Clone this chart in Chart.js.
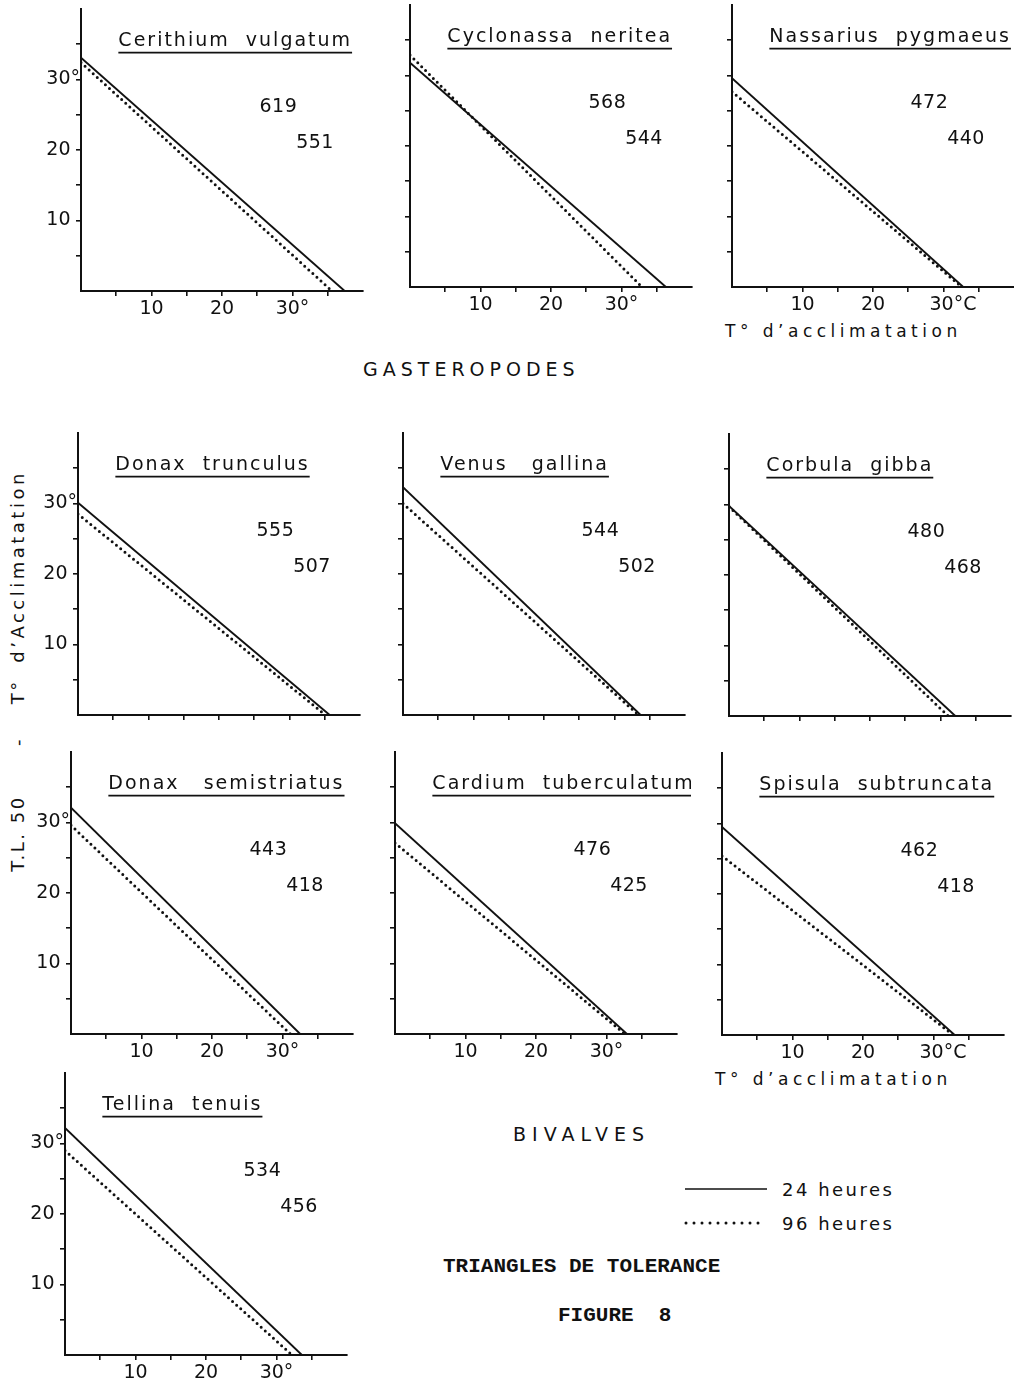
<!DOCTYPE html>
<html lang="fr">
<head>
<meta charset="utf-8">
<title>Triangles de tolérance - Figure 8</title>
<script src="https://cdn.jsdelivr.net/npm/chart.js@4.4.1/dist/chart.umd.min.js"></script>
<style>
  html, body { margin: 0; padding: 0; background: #fff; }
  body { position: relative; width: 1014px; height: 1389px; overflow: hidden;
         font-family: "DejaVu Sans", sans-serif; color: #111; }
  canvas.panel { position: absolute; }
  .lbl { position: absolute; white-space: pre; line-height: 1; }
  .mono { font-family: "Liberation Mono", "DejaVu Sans Mono", monospace; font-weight: bold; }
</style>
</head>
<body>

<div class="lbl" style="left:363px; top:360px; font-size:19px; letter-spacing:5px;">GASTEROPODES</div>
<div class="lbl" style="left:725px; top:323px; font-size:17px; letter-spacing:4.5px;">T° d’acclimatation</div>
<div class="lbl" style="left:715px; top:1071px; font-size:17px; letter-spacing:4.5px;">T° d’acclimatation</div>
<div class="lbl" style="left:-192px; top:662px; width:420px; font-size:18px; letter-spacing:2.5px; text-align:center; transform:rotate(-90deg);">T.L. 50      -    T°  <span style="letter-spacing:3.5px;">d’Acclimatation</span></div>
<div class="lbl" style="left:513px; top:1125px; font-size:19px; letter-spacing:6px;">BIVALVES</div>

<svg style="position:absolute; left:683px; top:1180px;" width="86" height="56">
  <line x1="2" y1="9" x2="84" y2="9" stroke="#111" stroke-width="1.6"/>
  <line x1="3" y1="43" x2="83" y2="43" stroke="#111" stroke-width="3" stroke-dasharray="0 8" stroke-linecap="round"/>
</svg>
<div class="lbl" style="left:782px; top:1181px; font-size:18px; letter-spacing:2.5px;">24 heures</div>
<div class="lbl" style="left:782px; top:1215px; font-size:18px; letter-spacing:2.5px;">96 heures</div>

<div class="lbl mono" style="left:443px; top:1256px; font-size:21px;">TRIANGLES DE TOLERANCE</div>
<div class="lbl mono" style="left:558px; top:1305px; font-size:21px;">FIGURE  8</div>

<script>
// species, in reading order (3 gastropods, then 7 bivalves)
const species = [
  'Cerithium  vulgatum', 'Cyclonassa  neritea', 'Nassarius  pygmaeus',
  'Donax  trunculus', 'Venus   gallina', 'Corbula  gibba',
  'Donax   semistriatus', 'Cardium  tuberculatum', 'Spisula  subtruncata',
  'Tellina  tenuis'
];
// T.L.50 at 0° acclimation (y intercept) and acclimation temp where the line meets 0 (x intercept)
const yStart24 = [33.1, 31.8, 29.6, 30.1, 32.3, 29.8, 32.1, 29.9, 29.5, 32.2];
const xEnd24   = [37.4, 36.3, 32.8, 35.7, 33.7, 32.1, 32.5, 32.9, 33.0, 33.6];
const yStart96 = [32.4, 32.9, 27.7, 28.5, 30.0, 29.7, 29.6, 27.1, 25.4, 29.0];
const xEnd96   = [35.6, 32.9, 32.6, 35.1, 33.4, 31.1, 31.1, 32.6, 32.8, 32.2];
// triangle areas written in each panel
const area24 = [619, 568, 472, 555, 544, 480, 443, 476, 462, 534];
const area96 = [551, 544, 440, 507, 502, 468, 418, 425, 418, 456];
// tick labels
const tickValues = [10, 20, 30];
const tickTexts = ['10', '20', '30°'];
const tickTextsC = ['10', '20', '30°C'];

// which panels carry tick labels
const yLabelled = [0, 3, 6, 9];
const xLabelled = [0, 1, 2, 6, 7, 8, 9];
const xWithC = [2, 8];

// page layout: pixel origin (0,0) of each panel
const origins = [
  [81, 291], [410, 287], [732, 287],
  [78, 715], [403, 715], [729, 716],
  [71, 1034], [395, 1034], [722, 1035],
  [65, 1355]
];

const INK = '#111';
const PPU = 7.05, SPAN = 40, PLOT = PPU * SPAN;
const PAD_L = 58, PAD_T = 10, PAD_R = 14, PAD_B = 34;

Chart.defaults.font.family = '"DejaVu Sans", sans-serif';
Chart.defaults.color = INK;

// title, underline and the two areas, placed in data units
const panelText = {
  id: 'panelText',
  afterDraw(chart, args, opts) {
    const {ctx, scales: {x, y}} = chart;
    ctx.save();
    ctx.fillStyle = INK;
    ctx.strokeStyle = INK;
    ctx.font = '19px "DejaVu Sans"';
    ctx.letterSpacing = '2px';
    ctx.textAlign = 'left';
    ctx.textBaseline = 'alphabetic';
    const tx = x.getPixelForValue(5.3);
    ctx.fillText(opts.title, tx, y.getPixelForValue(34.8));
    const w = ctx.measureText(opts.title).width;
    const uy = y.getPixelForValue(33.8);
    ctx.lineWidth = 1.8;
    ctx.beginPath();
    ctx.moveTo(tx, uy);
    ctx.lineTo(tx + w, uy);
    ctx.stroke();

    ctx.letterSpacing = '0.5px';
    ctx.textAlign = 'center';
    ctx.textBaseline = 'middle';
    ctx.fillText(String(opts.a24), x.getPixelForValue(28.0), y.getPixelForValue(26.1));
    ctx.fillText(String(opts.a96), x.getPixelForValue(33.2), y.getPixelForValue(21.0));
    ctx.restore();
  }
};

function axis(isX, texts) {
  return {
    type: 'linear', min: 0, max: SPAN,
    border: {display: true, color: INK, width: 2},
    grid: {
      drawOnChartArea: false, drawTicks: true, tickLength: 5, lineWidth: 1.6,
      color: c => (c.tick && (c.tick.value === 0 || c.tick.value === SPAN)) ? 'rgba(0,0,0,0)' : INK
    },
    ticks: {
      stepSize: 5, autoSkip: false, maxRotation: 0, minRotation: 0,
      padding: isX ? 2 : -4,
      font: {size: 19},
      color: INK,
      callback: v => {
        if (!texts) return '';
        const t = texts[tickValues.indexOf(v)];
        if (t === undefined) return '';
        if (isX) return t.endsWith('C') ? '\u2003' + t : t;
        return t.endsWith('°') ? t : t + '\u2002';
      }
    },
    afterFit: s => {
      if (isX) { s.height = PAD_B; s.paddingLeft = 0; s.paddingRight = 0; }
      else { s.width = PAD_L; s.paddingTop = 0; s.paddingBottom = 0; }
    }
  };
}

origins.forEach(([ox, oy], i) => {
  const c = document.createElement('canvas');
  c.className = 'panel';
  c.width = PAD_L + PLOT + PAD_R;
  c.height = PAD_T + PLOT + PAD_B;
  c.style.left = (ox - PAD_L) + 'px';
  c.style.top = (oy - PLOT - PAD_T) + 'px';
  document.body.appendChild(c);

  const xTexts = xLabelled.includes(i) ? (xWithC.includes(i) ? tickTextsC : tickTexts) : null;
  const yTexts = yLabelled.includes(i) ? tickTexts : null;

  new Chart(c, {
    type: 'scatter',
    data: {
      datasets: [
        {
          label: '24 heures',
          data: [{x: 0, y: yStart24[i]}, {x: xEnd24[i], y: 0}],
          showLine: true, borderColor: INK, borderWidth: 1.9,
          pointRadius: 0, tension: 0
        },
        {
          label: '96 heures',
          data: [{x: 0, y: yStart96[i]}, {x: xEnd96[i], y: 0}],
          showLine: true, borderColor: INK, borderWidth: 3,
          borderDash: [0, 5.5], borderCapStyle: 'round',
          pointRadius: 0, tension: 0
        }
      ]
    },
    options: {
      responsive: false, animation: false, events: [],
      layout: {padding: {left: 0, top: PAD_T, right: PAD_R, bottom: 0}},
      plugins: {
        legend: {display: false},
        tooltip: {enabled: false},
        panelText: {title: species[i], a24: area24[i], a96: area96[i]}
      },
      scales: {x: axis(true, xTexts), y: axis(false, yTexts)}
    },
    plugins: [panelText]
  });
});
</script>
</body>
</html>
